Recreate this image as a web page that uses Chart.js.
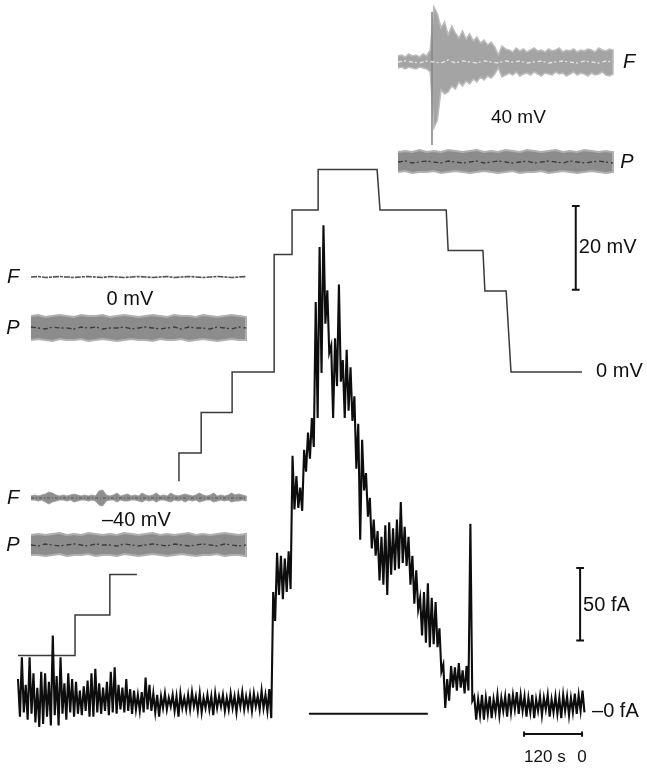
<!DOCTYPE html>
<html>
<head>
<meta charset="utf-8">
<script src="https://cdn.jsdelivr.net/npm/chart.js@4.4.1/dist/chart.umd.min.js"></script>
<style>
  html, body { margin: 0; padding: 0; background: #fff; }
  canvas { display: block; }
</style>
</head>
<body>
<canvas id="rampChart" width="647" height="769"></canvas>
<script>
// holding potential protocol (time in s, potential in mV); null = hidden behind the -40 mV inset
const stepTimes = [0, 118, 118, 190, 190, 246, 290, 333, 333, 379, 379, 443, 443, 530, 530, 567, 567, 621, 621, 743, 749, 886, 890, 962, 966, 1010, 1020, 1167];
const stepMilliVolts = [-70, -70, -60, -60, -50, -50, null, -27, -20, -20, -10, -10, 0, 0, 29, 29, 40, 40, 50, 50, 40, 40, 30, 30, 20, 20, 0, 0];

// current record, one sample every 8 s: upper and lower edge of the noise (fA)
const currentStep = 8;
const currentHigh = [
  20, 35, 16, 35, 24, 14, 25, 24, 18, 50, 22, 35, 17, 24, 20, 18, 12, 15, 19, 24,
  27, 17, 14, 18, 25, 28, 16, 14, 20, 13, 12, 9, 11, 21, 16, 10,
  9, 8, 10, 7, 9, 8, 10, 7, 9, 11, 8, 10, 7, 9, 8, 10, 8, 9, 7, 10, 8, 9, 11, 8, 9, 10, 8, 12, 9, 13,
  80, 107, 105, 103, 108, 174, 160, 152, 178, 190, 200, 280, 318, 333, 288, 250, 255, 292, 240, 247,
  235, 215, 196, 185, 162, 145, 130, 122, 118, 126, 128, 124, 130, 142, 125, 118, 105, 95, 76, 80,
  86, 76, 73, 55, 30, 20, 29, 28, 31, 26, 29,
  127, 8, 6, 9, 7, 8, 6, 9, 7, 8, 10, 9, 11, 9, 8, 7, 9, 6, 8, 7, 9, 6, 8, 7, 9, 8, 7, 10, 9, 12
];
const currentLow = [
  -6, -3, -8, -4, -10, -13, -11, -6, -12, -5, -12, -4, -8, -3, -6, -4, -5, -2, -6, -6,
  -3, -4, -2, -5, -3, -4, -1, -3, -2, -4, -1, -2, -3, -1, -2, -3,
  -6, 0, -1, 1, -2, -6, 0, -1, -1, 1, -2, -3, 0, -1, -5, 0, 1, -2, -1, 0, -3, 1, -1, 0, -2, 1, -1, 0, -2, -7,
  60, 78, 75, 80, 82, 137, 138, 136, 163, 172, 180, 200, 231, 265, 245, 200, 222, 225, 200, 205,
  198, 165, 116, 150, 132, 110, 105, 88, 85, 78, 92, 95, 96, 100, 98, 85, 72, 68, 50, 45,
  42, 44, 42, 25, 0, 5, 14, 12, 14, 10, 12,
  5, -8, -5, -8, -4, -7, -3, -5, -2, -6, -3, -1, -4, -2, -6, -3, -7, -2, -5, -1, -6, -3, -4, -7, -2, -5, -3, -4, -2, -3
];

// application bar under the response (s, fA)
const barTimes = [602, 848];
const barLevel = -4;

// scale bars
const voltBar = { t: 1154, from: 20.3, to: 41 };   // 20 mV
const currBar = { t: 1163, from: 46.5, to: 96.5 }; // 50 fA
const timeBar = { from: 1047, to: 1167, level: -18 }; // 120 s

// inset records (amplitude in a.u., sampled evenly across each panel)
const f40Upper = [6, 7, 5, 8, 6, 7, 5, 8, 6, 12, 55, 48, 34, 40, 27, 36, 29, 24, 31, 23, 28, 21, 25, 19, 22, 17, 20, 15, 7, 16, 13,
  12, 10, 14, 11, 13, 10, 12, 14, 11, 12, 10, 13, 11, 12, 14, 10, 12, 11, 13, 10, 12, 11, 13, 12, 10, 14, 12, 11, 13, 12];
const f40Lower = [6, 5, 7, 5, 6, 7, 5, 6, 7, 10, 66, 58, 28, 32, 30, 24, 27, 20, 24, 19, 22, 17, 20, 15, 18, 14, 16, 12, 6, 15, 13,
  11, 13, 10, 14, 12, 11, 13, 10, 12, 14, 11, 12, 13, 10, 12, 11, 14, 12, 10, 13, 11, 12, 14, 11, 13, 12, 10, 13, 14, 12];
const f40Center = [0, 1, 0, -1, 1, 0, -1, 2, -1, 1, 0, -1, 1, 0, -1, 1, 0, 1, -1, 0, 1, -1, 0, 1, 0, -1, 1, 0, -1, 1, 0];
const f40Streak = [50, -83];
const f40StreakAt = 15.8;

const p40Upper = [10, 11, 10, 12, 10, 11, 10, 12, 11, 10, 11, 12, 10, 11, 10, 12, 11, 10, 12, 11, 10, 11, 12, 10, 11, 10, 12, 11, 10, 11, 10];
const p40Lower = [10, 9, 11, 10, 10, 9, 11, 10, 9, 10, 11, 10, 9, 10, 11, 10, 9, 11, 10, 10, 9, 11, 10, 9, 10, 11, 10, 9, 10, 11, 10];
const p40Center = [0, 1, -1, 0, 1, 0, -1, 1, 0, -1, 0, 1, -1, 0, 1, 0, -1, 0, 1, -1, 0, 1, 0, -1, 1, 0, -1, 0, 1, 0, -1];

const f0Line = [0, 0.5, -0.5, 0, 0.5, 0, -0.5, 0, 0.5, 0, -0.5, 0.5, 0, -0.5, 0, 0.5, 0, -0.5, 0, 0.5, -0.5, 0, 0.5, 0, -0.5, 0, 0.5, 0, -0.5, 0, 0.5];

const p0Upper = [12, 13, 11, 12, 13, 12, 11, 13, 12, 12, 13, 11, 12, 13, 12, 11, 12, 13, 12, 11, 13, 12, 12, 11, 13, 12, 11, 12, 13, 12, 11];
const p0Lower = [12, 11, 12, 13, 11, 12, 12, 11, 13, 12, 11, 12, 13, 12, 11, 12, 12, 13, 11, 12, 12, 11, 13, 12, 11, 12, 13, 12, 11, 12, 12];
const p0Center = [1, 0, -1, 1, 0, 0, -1, 1, 0, 1, -1, 0, 0, 1, -1, 0, 1, 0, -1, 0, 1, -1, 1, 0, 0, -1, 1, 0, -1, 1, 0];

const fm40Upper = [2, 3, 2, 3, 4, 6, 5, 3, 2, 3, 2, 3, 4, 3, 2, 3, 2, 3, 2, 7, 8, 3, 2, 3, 5, 2, 3, 4, 2, 3, 2,
  5, 3, 2, 3, 5, 2, 3, 2, 5, 3, 2, 3, 4, 3, 2, 3, 5, 3, 2, 3, 5, 2, 3, 2, 3, 5, 3, 4, 3, 2];
const fm40Lower = [2, 2, 3, 2, 4, 6, 4, 3, 2, 2, 3, 2, 4, 3, 2, 2, 3, 2, 3, 7, 8, 3, 2, 2, 4, 2, 3, 3, 2, 2, 3,
  4, 2, 3, 2, 4, 2, 2, 3, 4, 2, 3, 2, 4, 2, 3, 2, 4, 3, 2, 2, 4, 3, 2, 3, 2, 4, 3, 3, 2, 3];

const pm40Upper = [10, 11, 10, 11, 12, 10, 11, 10, 12, 11, 10, 11, 10, 12, 11, 10, 11, 12, 10, 11, 10, 11, 12, 10, 11, 10, 11, 12, 11, 10, 11];
const pm40Lower = [10, 10, 11, 10, 9, 11, 10, 10, 9, 11, 10, 10, 11, 9, 10, 11, 10, 9, 10, 11, 10, 9, 10, 11, 10, 10, 9, 11, 10, 10, 11];
const pm40Center = [0, -1, 1, 0, -1, 0, 1, 0, -1, 1, 0, 0, -1, 1, 0, -1, 0, 1, 0, -1, 1, 0, -1, 0, 1, 0, -1, 1, 0, -1, 0];

// panel rows for the montage of inset images
const rows = { f40: 62, p40: 162, f0: 277, p0: 328, fm40: 498, pm40: 545 };

// ---- build chart points ----
function stairPoints() {
  return stepTimes.map((t, i) => ({ x: t, y: stepMilliVolts[i] }));
}

function currentPoints() {
  const pts = [];
  for (let i = 0; i < currentHigh.length; i++) {
    pts.push({ x: i * currentStep, y: currentHigh[i] });
    pts.push({ x: i * currentStep + currentStep / 2, y: currentLow[i] });
  }
  return pts;
}

function bandPoints(upper, lower, row) {
  const n = upper.length;
  const pts = [];
  for (let i = 0; i < n; i++) pts.push({ x: i * 100 / (n - 1), y: row - upper[i] });
  for (let i = n - 1; i >= 0; i--) pts.push({ x: i * 100 / (n - 1), y: row + lower[i] });
  return pts;
}

function linePoints(values, row) {
  const n = values.length;
  return values.map((v, i) => ({ x: i * 100 / (n - 1), y: row - v }));
}

function vBar(t, from, to, cap) {
  return [
    { x: t - cap, y: to }, { x: t + cap, y: to }, { x: t + cap, y: null },
    { x: t, y: to }, { x: t, y: from }, { x: t, y: null },
    { x: t - cap, y: from }, { x: t + cap, y: from }
  ];
}

const base = { pointRadius: 0, pointHoverRadius: 0, tension: 0, spanGaps: false, fill: false };

function band(upper, lower, row, xAxisID, fillColor, edgeColor, edgeWidth) {
  return Object.assign({}, base, {
    data: bandPoints(upper, lower, row), xAxisID: xAxisID, yAxisID: 'yIns',
    fill: 'shape', backgroundColor: fillColor, borderColor: edgeColor, borderWidth: edgeWidth
  });
}

function trace(values, row, xAxisID, color, width, dash) {
  return Object.assign({}, base, {
    data: linePoints(values, row), xAxisID: xAxisID, yAxisID: 'yIns',
    borderColor: color, borderWidth: width, borderDash: dash || []
  });
}

const datasets = [
  // current (fA)
  Object.assign({}, base, { data: currentPoints(), xAxisID: 'x', yAxisID: 'yI', borderColor: '#0d0d0d', borderWidth: 2.1 }),
  Object.assign({}, base, { data: barTimes.map(t => ({ x: t, y: barLevel })), xAxisID: 'x', yAxisID: 'yI', borderColor: '#111', borderWidth: 2 }),
  Object.assign({}, base, { data: vBar(currBar.t, currBar.from, currBar.to, 8), xAxisID: 'x', yAxisID: 'yI', borderColor: '#111', borderWidth: 2 }),
  Object.assign({}, base, {
    data: [
      { x: timeBar.from, y: timeBar.level + 1.8 }, { x: timeBar.from, y: timeBar.level - 1.8 }, { x: timeBar.from, y: null },
      { x: timeBar.from, y: timeBar.level }, { x: timeBar.to, y: timeBar.level }, { x: timeBar.to, y: null },
      { x: timeBar.to, y: timeBar.level + 1.8 }, { x: timeBar.to, y: timeBar.level - 1.8 }
    ],
    xAxisID: 'x', yAxisID: 'yI', borderColor: '#111', borderWidth: 2
  }),
  // potential (mV)
  Object.assign({}, base, { data: stairPoints(), xAxisID: 'x', yAxisID: 'yV', borderColor: '#3a3a3a', borderWidth: 1.5 }),
  Object.assign({}, base, { data: vBar(voltBar.t, voltBar.from, voltBar.to, 8), xAxisID: 'x', yAxisID: 'yV', borderColor: '#111', borderWidth: 2 }),
  // insets at +40 mV
  trace(f40Center, rows.f40, 'xInsR', '#e4e4e4', 1.3, [4, 2, 2, 3]),
  Object.assign({}, base, {
    data: f40Streak.map(v => ({ x: f40StreakAt, y: rows.f40 - v })), xAxisID: 'xInsR', yAxisID: 'yIns',
    borderColor: '#8a8a8a', borderWidth: 1.6
  }),
  band(f40Upper, f40Lower, rows.f40, 'xInsR', '#a4a4a4', '#bcbcbc', 1.5),
  trace(p40Center, rows.p40, 'xInsR', '#3c3c3c', 1.3, [5, 2, 2, 3]),
  band(p40Upper, p40Lower, rows.p40, 'xInsR', '#8c8c8c', '#b0b0b0', 2),
  // insets at 0 mV
  trace(f0Line, rows.f0, 'xInsL', '#555', 1.7, [6, 1, 3, 1]),
  trace(p0Center, rows.p0, 'xInsL', '#3c3c3c', 1.3, [5, 2, 2, 3]),
  band(p0Upper, p0Lower, rows.p0, 'xInsL', '#8c8c8c', '#b0b0b0', 2),
  // insets at -40 mV
  trace(fm40Upper.map(() => 0), rows.fm40, 'xInsL', '#555', 1, [3, 2, 1, 2]),
  band(fm40Upper, fm40Lower, rows.fm40, 'xInsL', '#8e8e8e', '#a0a0a0', 1),
  trace(pm40Center, rows.pm40, 'xInsL', '#3c3c3c', 1.3, [5, 2, 2, 3]),
  band(pm40Upper, pm40Lower, rows.pm40, 'xInsL', '#8c8c8c', '#b0b0b0', 2)
];

const labelPlugin = {
  id: 'traceLabels',
  afterDatasetsDraw(chart) {
    const { ctx, scales } = chart;
    const xT = scales.x, yV = scales.yV, yI = scales.yI;
    const xL = scales.xInsL, xR = scales.xInsR, yN = scales.yIns;
    const put = (text, x, y, size, align, italic) => {
      ctx.font = (italic ? 'italic ' : '') + size + 'px "Liberation Sans", Arial, sans-serif';
      ctx.textAlign = align;
      ctx.fillText(text, x, y);
    };
    ctx.save();
    ctx.fillStyle = '#111';
    ctx.textBaseline = 'middle';

    // inset captions
    put('F', xR.getPixelForValue(100) + 16, yN.getPixelForValue(rows.f40), 20, 'center', true);
    put('P', xR.getPixelForValue(100) + 14, yN.getPixelForValue(rows.p40), 20, 'center', true);
    put('40 mV', xR.getPixelForValue(56), yN.getPixelForValue(118), 19, 'center');
    put('F', xL.getPixelForValue(0) - 18, yN.getPixelForValue(rows.f0), 20, 'center', true);
    put('P', xL.getPixelForValue(0) - 18, yN.getPixelForValue(rows.p0), 20, 'center', true);
    put('0 mV', xL.getPixelForValue(46), yN.getPixelForValue(299), 20, 'center');
    put('F', xL.getPixelForValue(0) - 18, yN.getPixelForValue(rows.fm40), 20, 'center', true);
    put('P', xL.getPixelForValue(0) - 18, yN.getPixelForValue(rows.pm40), 20, 'center', true);
    put('\u201340 mV', xL.getPixelForValue(49), yN.getPixelForValue(520), 20, 'center');

    // scale bars and zero levels
    put('20 mV', xT.getPixelForValue(voltBar.t) + 3, (yV.getPixelForValue(voltBar.from) + yV.getPixelForValue(voltBar.to)) / 2, 20, 'left');
    put('0 mV', xT.getPixelForValue(stepTimes[stepTimes.length - 1]) + 14, yV.getPixelForValue(0) - 1, 20, 'left');
    put('50 fA', xT.getPixelForValue(currBar.t) + 3, (yI.getPixelForValue(currBar.from) + yI.getPixelForValue(currBar.to)) / 2 + 1, 20, 'left');
    put('\u20130 fA', xT.getPixelForValue(timeBar.to) + 10, yI.getPixelForValue(0) + 3, 20, 'left');
    put('120 s', xT.getPixelForValue(timeBar.from), yI.getPixelForValue(timeBar.level) + 23, 17, 'left');
    put('0', xT.getPixelForValue(timeBar.to), yI.getPixelForValue(timeBar.level) + 23, 17, 'center');
    ctx.restore();
  }
};

const hidden = { display: false };
new Chart(document.getElementById('rampChart'), {
  type: 'line',
  data: { datasets: datasets },
  options: {
    responsive: false,
    animation: false,
    events: [],
    layout: { padding: 0 },
    plugins: { legend: { display: false }, tooltip: { enabled: false }, title: { display: false } },
    scales: {
      x: Object.assign({ type: 'linear', min: -37.24, max: 1301.4 }, hidden),
      yV: Object.assign({ type: 'linear', position: 'left', min: -98.02, max: 91.85 }, hidden),
      yI: Object.assign({ type: 'linear', position: 'right', min: -42.07, max: 488.28 }, hidden),
      xInsL: Object.assign({ type: 'linear', position: 'bottom', min: -14.42, max: 286.5 }, hidden),
      xInsR: Object.assign({ type: 'linear', position: 'bottom', min: -185.1, max: 115.8 }, hidden),
      yIns: Object.assign({ type: 'linear', position: 'left', min: 0, max: 769, reverse: true }, hidden)
    }
  },
  plugins: [labelPlugin]
});
</script>
</body>
</html>
